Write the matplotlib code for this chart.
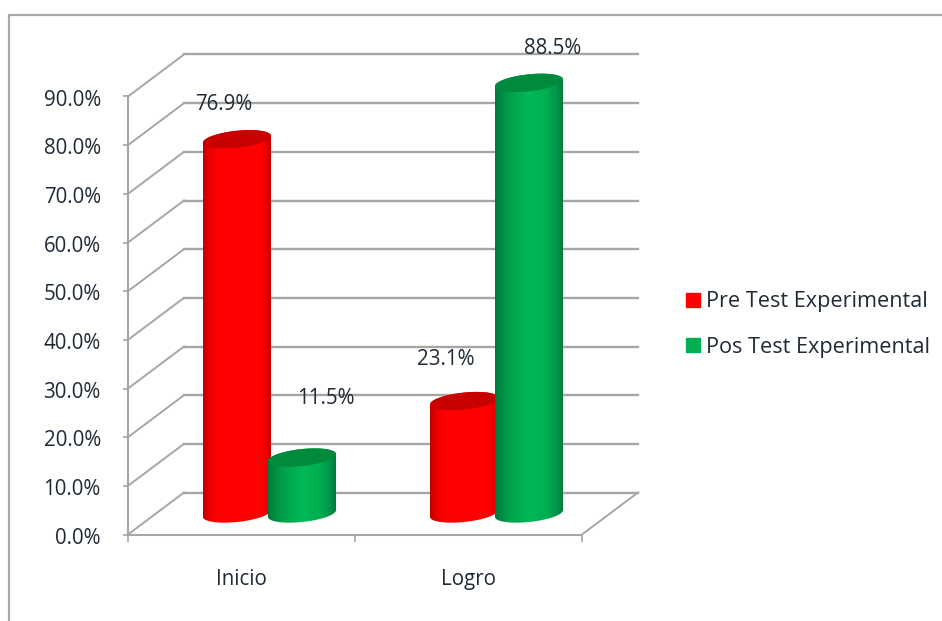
import numpy as np
import matplotlib
matplotlib.use('Agg')
import matplotlib.pyplot as plt
from matplotlib.colors import LinearSegmentedColormap
from matplotlib.lines import Line2D
from matplotlib.patches import Patch, PathPatch
from matplotlib.path import Path
from matplotlib.transforms import ScaledTranslation

categories = ['Inicio', 'Logro']
pre_test = [76.9, 23.1]
pos_test = [11.5, 88.5]
series_names = ['Pre Test Experimental', 'Pos Test Experimental']
y_ticks = [0, 10, 20, 30, 40, 50, 60, 70, 80, 90]

plt.rcParams['font.family'] = ['Open Sans', 'DejaVu Sans']
FONT = 14.8
TEXT = '#1f2a36'
GRID = '#a6a6a6'

fig = plt.figure(figsize=(9.42, 6.21), dpi=100, facecolor='white')
ax = fig.add_axes([128 / 942, (621 - 534.5) / 621, 454 / 942, 438 / 621])
ax.patch.set_visible(False)

# one screen pixel in data units
px_x = 2 / 454
px_y = 90 / 438
depth_x = 56 * px_x
depth_y = 42 * px_y
order = 3.0


def cylinder(x_center, value, cmap, top_color):
    global order
    half = 34
    b = 8.5
    tilt = 0.1
    x0 = x_center + depth_x / 2
    y0 = depth_y / 2

    t_low = np.linspace(np.pi, 2 * np.pi, 60)
    t_up = np.linspace(0, np.pi, 60)
    low_x = x0 + half * np.cos(t_low) * px_x
    low_y = y0 + (half * tilt * np.cos(t_low) + b * np.sin(t_low)) * px_y
    up_x = x0 + half * np.cos(t_up) * px_x
    up_y = y0 + value + (half * tilt * np.cos(t_up) + b * np.sin(t_up)) * px_y

    body = np.column_stack([np.r_[low_x, up_x], np.r_[low_y, up_y]])
    outline = PathPatch(Path(np.vstack([body, body[0]]), closed=True),
                        facecolor='none', edgecolor='none', transform=ax.transData)
    ax.add_patch(outline)

    grad = np.linspace(0, 1, 128).reshape(1, -1)
    img = ax.imshow(grad, cmap=cmap, aspect='auto', interpolation='bilinear',
                    extent=[x0 - half * px_x, x0 + half * px_x,
                            y0 - 12 * px_y, y0 + value + 12 * px_y])
    img.set_clip_box(fig.bbox)
    img.set_clip_path(outline)
    # later cylinders sit on top of earlier ones
    order += 0.1
    img.set_zorder(order)

    t = np.linspace(0, 2 * np.pi, 120)
    cap_x = x0 + half * np.cos(t) * px_x
    cap_y = y0 + value + (half * tilt * np.cos(t) + b * np.sin(t)) * px_y
    ax.fill(cap_x, cap_y, color=top_color, lw=0, zorder=order + 0.05, clip_on=False)


red_map = LinearSegmentedColormap.from_list(
    'red3d', [(0, '#c00000'), (0.08, '#e60000'), (0.22, '#ff0000'), (0.85, '#ff0000'),
              (0.95, '#e80000'), (1, '#c00000')])
green_map = LinearSegmentedColormap.from_list(
    'green3d', [(0, '#007a3b'), (0.2, '#009f4c'), (0.5, '#00b856'), (0.75, '#00b050'),
                (0.92, '#00934a'), (1, '#007a3b')])

# walls and floor
for v in y_ticks:
    ax.plot([0, depth_x], [v, v + depth_y], color=GRID, lw=1.4, clip_on=False, zorder=1)
    ax.plot([depth_x, 2 + depth_x], [v + depth_y, v + depth_y], color=GRID, lw=1.7,
            clip_on=False, zorder=1)
ax.plot([2, 2 + depth_x], [0, depth_y], color=GRID, lw=1.4, clip_on=False, zorder=1)

for i in range(len(categories)):
    cylinder(i + 0.5 - 32.5 * px_x, pre_test[i], red_map, '#c80000')
    cylinder(i + 0.5 + 32.5 * px_x, pos_test[i], green_map, '#008a3e')

ax.set_xlim(0, 2)
ax.set_ylim(0, 90)

# data labels were moved by hand in the original, offsets in pixels from the bar top
pre_offsets = [(-13, 35), (-18, 42)]
pos_offsets = [(24, 59), (24, 34)]
for i in range(len(categories)):
    for vals, offs, sign in ((pre_test, pre_offsets, -1), (pos_test, pos_offsets, 1)):
        x = i + 0.5 + sign * 32.5 * px_x + depth_x / 2 + offs[i][0] * px_x
        y = vals[i] + depth_y / 2 + offs[i][1] * px_y
        ax.text(x, y, f'{vals[i]}%', ha='center', va='center', fontsize=FONT,
                color=TEXT, zorder=10, clip_on=False)

for side in ('top', 'right'):
    ax.spines[side].set_visible(False)
for side in ('left', 'bottom'):
    ax.spines[side].set_color(GRID)
    ax.spines[side].set_linewidth(1.5)

ax.set_yticks(y_ticks)
ax.set_yticklabels([f'{v:.1f}%' for v in y_ticks], fontsize=FONT, color=TEXT)
ax.tick_params(axis='y', length=3.6, width=1.2, color=GRID, pad=16)
# tick labels sit a little under the tick marks in the original
down = ScaledTranslation(0, -1 / 100, fig.dpi_scale_trans)
for lab in ax.get_yticklabels():
    lab.set_transform(lab.get_transform() + down)
ax.set_xticks([0, 1, 2])
ax.set_xticklabels([])
ax.set_xticks([0.5, 1.5], categories, minor=True, fontsize=FONT, color=TEXT)
ax.tick_params(axis='x', which='major', length=5, width=1.2, color=GRID)
ax.tick_params(axis='x', which='minor', length=0, pad=24.5)

handles = [Patch(color='#ff0000'), Patch(color='#00b050')]
fig.legend(handles, series_names, loc='upper left', frameon=False, fontsize=15.6,
           bbox_to_anchor=(686 / 942, 1 - 291.5 / 621), borderaxespad=0, borderpad=0,
           handlelength=0.65, handleheight=0.65, handletextpad=0.28, labelspacing=1.11,
           labelcolor=TEXT)

# picture frame
fig.add_artist(Line2D([9 / 942, 9 / 942, 1], [0, 1 - 14.5 / 621, 1 - 14.5 / 621],
                      color='#a8a8a8', lw=1.6, transform=fig.transFigure))

fig.savefig('out.png', dpi=100, facecolor='white')
